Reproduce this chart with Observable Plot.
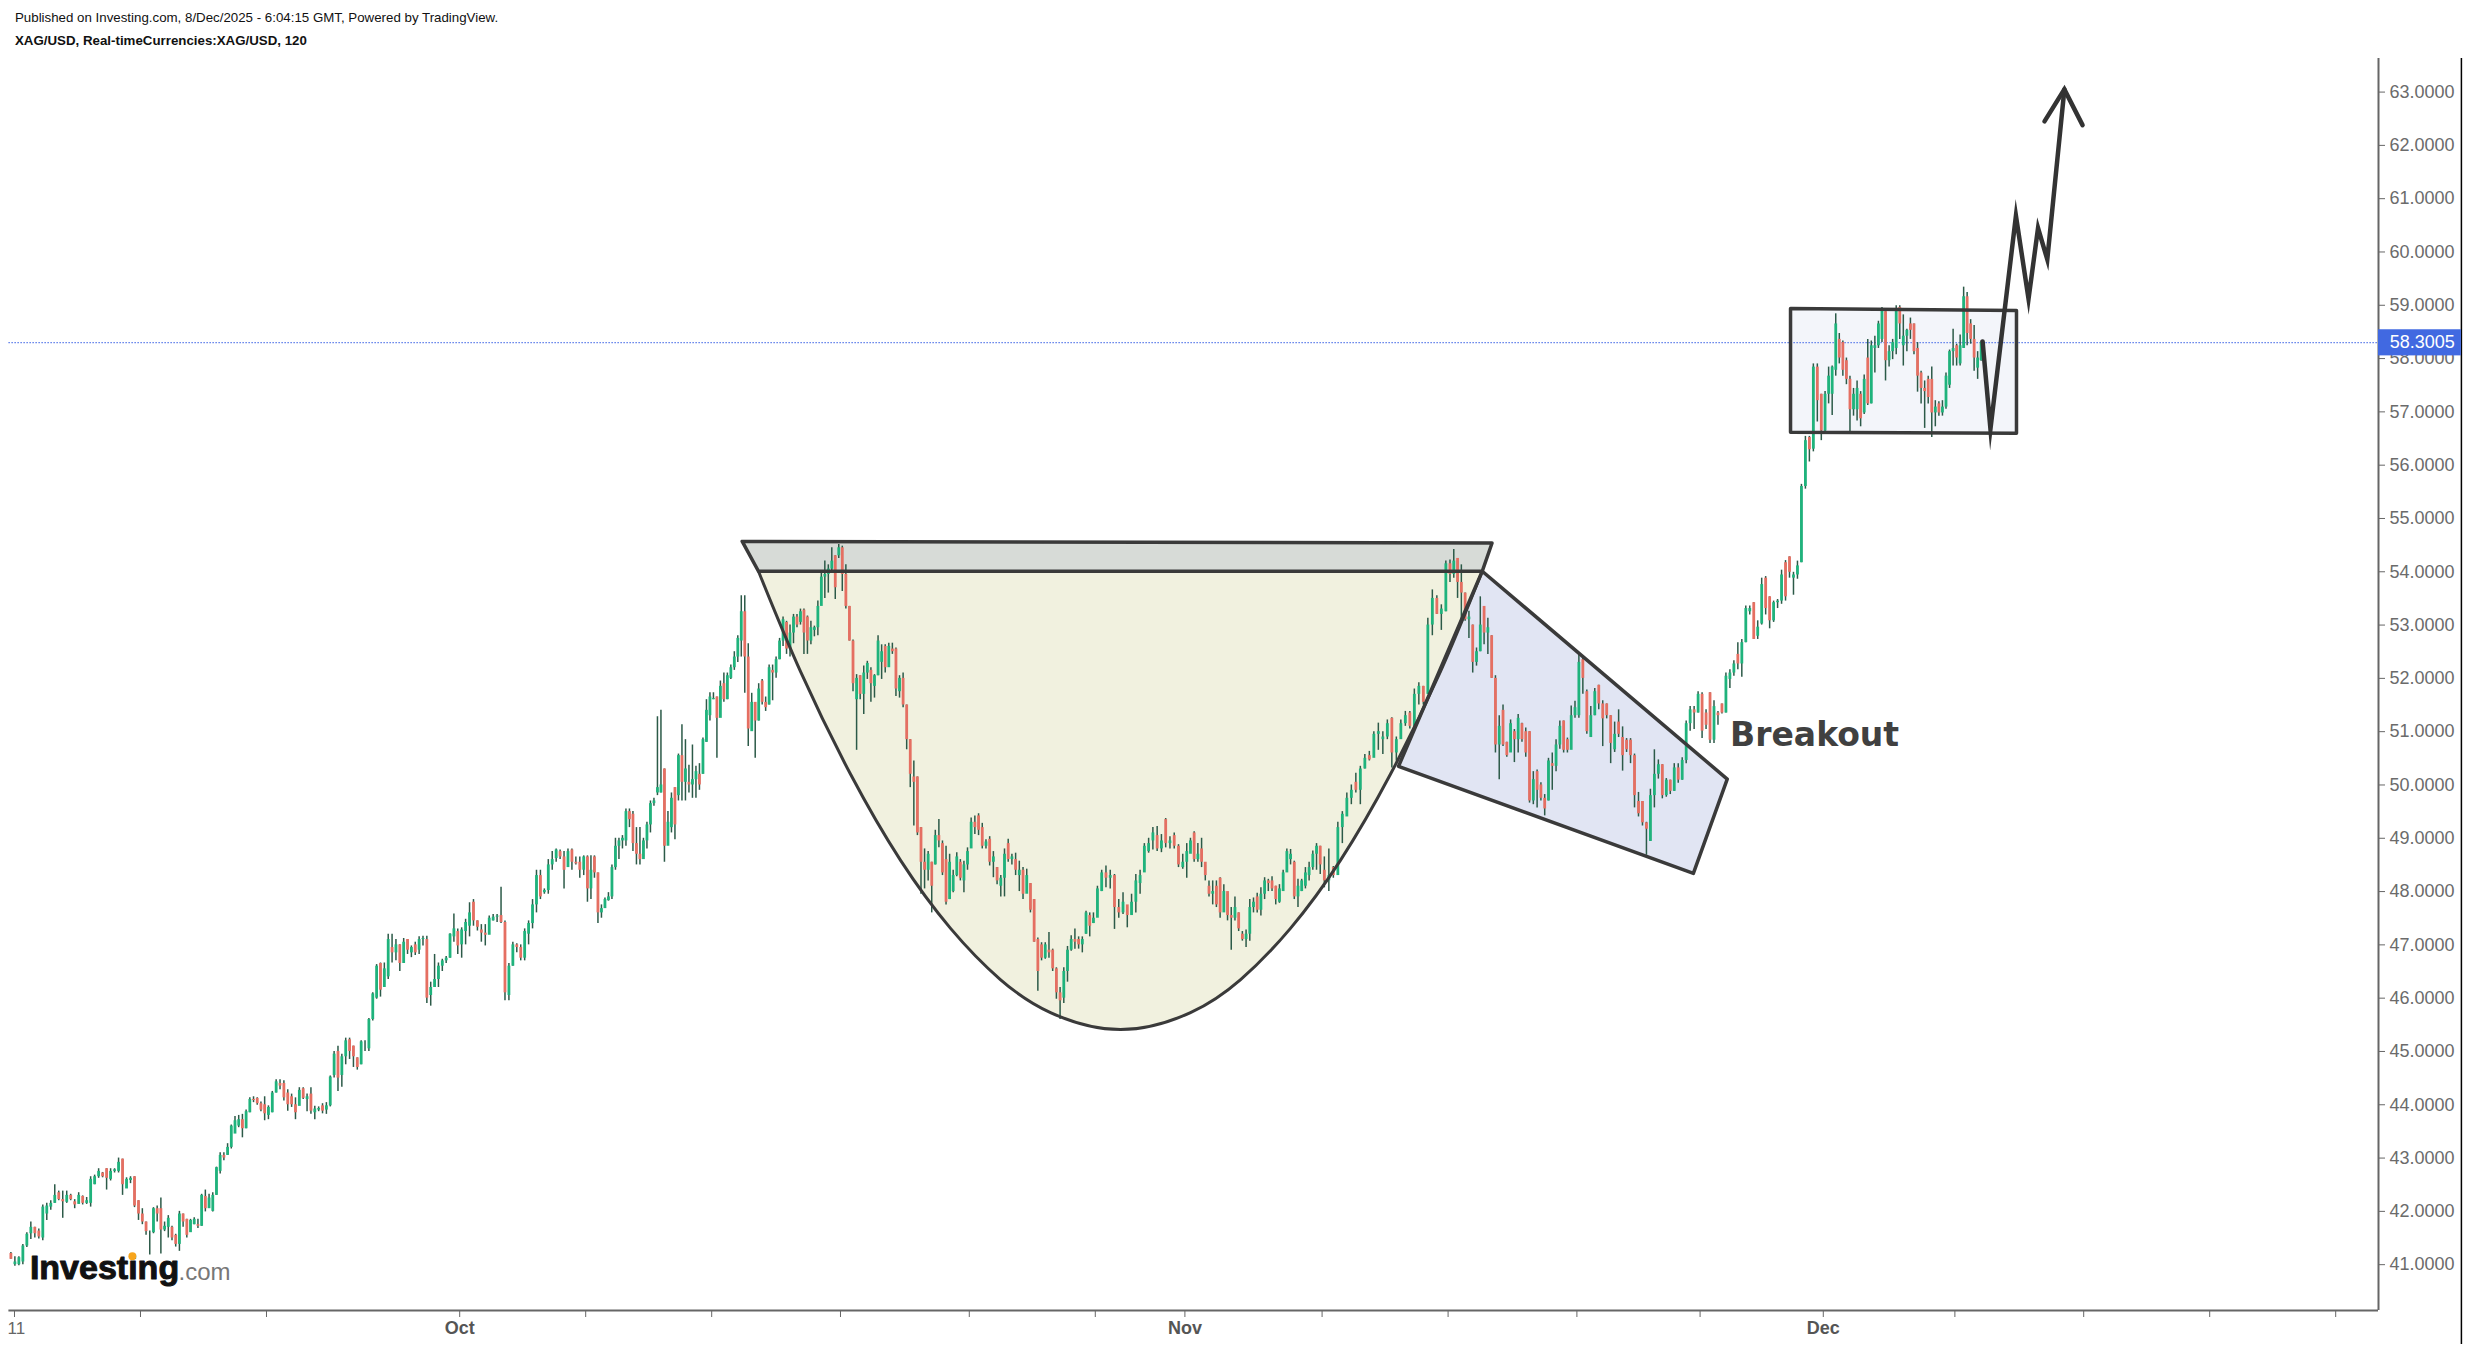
<!DOCTYPE html>
<html><head><meta charset="utf-8">
<script src="https://cdn.jsdelivr.net/npm/d3@7"></script>
<script src="https://cdn.jsdelivr.net/npm/@observablehq/plot@0.6"></script>
<style>
html,body{margin:0;background:#fff;}
#head{position:absolute;left:15px;top:6px;font-family:"Liberation Sans",Arial,sans-serif;font-size:13.3px;color:#111;line-height:23px;}
#head b{display:block;}
svg{display:block;}
</style></head><body>
<div id="head">Published on Investing.com, 8/Dec/2025 - 6:04:15 GMT, Powered by TradingView.<b>XAG/USD, Real-timeCurrencies:XAG/USD, 120</b></div>
<div id="chart"></div>
<script>
// Weekly candle blocks, each row: open, high, low, close (USD)
const w00=[[41.21,41.23,41.10,41.10],[41.0,41.15,40.97,41.05],[41.0,41.15,40.98,41.13],[41.05,41.38,41.0,41.35],[41.35,41.6,41.32,41.57],[41.58,41.8,41.47,41.7],[41.7,41.7,41.5,41.58],[41.63,41.67,41.48,41.52],[41.5,42.12,41.45,42.08],[41.95,42.15,41.83,42.1],[42.08,42.2,42.02,42.15],[42.15,42.5,42.15,42.3],[42.35,42.38,42.2,42.22],[42.22,42.38,41.87,42.18],[42.17,42.38,42.15,42.3],[42.3,42.32,42.2,42.22],[42.18,42.22,42.05,42.12],[42.13,42.35,42.14,42.3],[42.28,42.29,42.12,42.15],[42.15,42.26,42.13,42.2],[42.15,42.65,42.08,42.6],[42.5,42.68,42.5,42.65],[42.65,42.8,42.62,42.75],[42.72,42.73,42.63,42.65],[42.8,42.8,42.4,42.62],[42.6,42.8,42.57,42.75],[42.75,42.8,42.72,42.78],[42.75,43.0,42.72,42.92],[42.98,42.98,42.3,42.5],[42.42,42.63,42.43,42.6],[42.58,42.65,42.52,42.62],[42.65,42.65,42.07,42.1],[42.2,42.2,41.83,41.95]];
const w01=[[41.95,42.05,41.75,41.8],[41.8,41.8,41.55,41.62],[41.6,41.63,41.18,41.6],[41.6,42.07,41.58,42.05],[42.05,42.1,41.8,41.95],[42.05,42.25,41.2,41.65],[41.65,41.8,41.62,41.72],[41.7,41.92,41.5,41.87],[41.7,41.72,41.45,41.5],[41.55,41.57,41.33,41.38],[41.38,42.0,41.25,41.95],[41.95,41.95,41.7,41.8],[41.85,41.85,41.5,41.55],[41.6,41.85,41.66,41.83],[41.75,41.88,41.75,41.85],[41.75,41.85,41.68,41.72],[41.72,42.32,41.72,42.3],[42.28,42.4,41.99,42.05],[42.05,42.32,42.1,42.25],[42.0,42.35,41.99,42.3],[42.3,42.83,42.3,42.82],[42.75,43.1,42.7,43.05],[43.05,43.1,42.95,43.0],[43.05,43.27,43.05,43.2],[43.2,43.62,43.17,43.6],[43.45,43.78,43.5,43.7],[43.6,43.8,43.57,43.72],[43.72,43.82,43.38,43.55],[43.55,43.9,43.55,43.87],[43.85,44.13,43.85,44.1],[44.1,44.15,44.04,44.08],[44.12,44.13,43.99,44.02],[44.02,44.05,43.87,43.9],[44.0,44.15,43.7,43.83]];
const w02=[[43.8,43.98,43.72,43.95],[43.85,44.25,43.85,44.22],[44.22,44.47,44.22,44.43],[44.4,44.47,44.28,44.35],[44.4,44.45,44.07,44.13],[44.22,44.28,43.88,44.0],[44.15,44.2,43.95,44.0],[44.0,44.13,43.72,43.85],[43.97,44.32,44.12,44.27],[44.3,44.32,44.1,44.12],[44.1,44.2,43.87,44.15],[44.2,44.32,43.82,43.88],[43.85,43.97,43.72,43.92],[43.9,43.96,43.87,43.93],[43.98,44.02,43.83,43.88],[43.9,44.04,43.82,43.98],[43.98,44.54,43.96,44.52],[44.55,45.0,44.5,44.95],[45.0,45.1,44.25,44.5],[44.55,44.95,44.33,44.9],[44.9,45.25,44.75,45.2],[45.22,45.25,44.85,45.0],[45.1,45.1,44.7,44.9],[44.88,44.88,44.65,44.7],[44.75,45.2,44.75,45.18],[45.1,45.2,45.0,45.1],[45.05,45.62,45.0,45.6],[45.6,46.1,45.57,46.08],[46.0,46.63,45.98,46.6],[46.65,46.66,46.02,46.15],[46.2,46.66,46.25,46.55],[46.4,47.2,46.35,47.1],[46.95,47.2,46.66,46.85],[46.85,47.1,46.7,47.0],[47.0,47.0,46.5,46.65],[46.65,47.12,46.65,47.05],[47.1,47.1,46.82,46.9],[46.85,46.98,46.76,46.95],[47.0,47.05,46.8,46.85],[46.9,47.15,46.82,47.1],[47.1,47.16,46.98,47.12],[47.1,47.16,45.9,46.0],[46.05,46.3,45.85,46.2],[46.2,46.82,46.2,46.35],[46.35,46.66,46.2,46.6],[46.6,46.73,46.5,46.7],[46.7,46.78,46.65,46.75],[46.75,47.21,46.75,47.2],[47.15,47.58,47.05,47.3],[47.25,47.3,46.82,46.98]];
const w03=[[47.0,47.32,46.75,47.28],[47.25,47.48,47.0,47.42],[47.35,47.79,47.15,47.6],[47.8,47.85,47.35,47.45],[47.45,47.45,47.26,47.33],[47.28,47.38,47.05,47.22],[47.22,47.38,46.98,47.18],[47.18,47.54,47.2,47.5],[47.45,47.57,47.45,47.52],[47.52,47.57,47.42,47.54],[47.55,48.08,47.4,47.42],[47.42,47.45,45.95,46.1],[46.05,46.65,45.95,46.6],[46.6,47.05,46.6,47.0],[47.0,47.02,46.85,46.95],[46.95,47.0,46.7,46.75],[46.75,47.3,46.7,47.25],[47.2,47.45,47.0,47.4],[47.4,47.85,47.3,47.75],[47.75,48.4,47.6,48.3],[48.3,48.4,47.85,47.9],[47.98,48.05,47.95,48.02],[48.02,48.6,47.95,48.5],[48.5,48.75,48.4,48.6],[48.62,48.8,48.55,48.78],[48.75,48.78,48.6,48.65],[48.65,48.75,48.05,48.4],[48.45,48.8,48.5,48.75],[48.78,48.8,48.4,48.55],[48.55,48.65,48.5,48.52],[48.55,48.65,48.25,48.4],[48.4,48.67,48.3,48.65]];
const w04=[[48.65,48.67,47.8,48.05],[48.05,48.67,47.85,48.4],[48.65,48.67,48.25,48.35],[48.35,48.35,47.4,47.6],[47.6,47.75,47.5,47.68],[47.68,47.88,47.75,47.85],[47.83,47.98,47.82,47.9],[47.9,48.5,47.85,48.45],[48.45,49.0,48.4,48.85],[48.85,49.0,48.6,48.95],[48.95,49.05,48.8,49.0],[48.95,49.55,48.85,49.5],[49.5,49.55,49.2,49.35],[49.45,49.5,48.75,48.9],[48.9,49.2,48.5,48.7],[48.7,49.2,48.5,48.6],[48.6,49.0,48.65,48.95],[48.95,49.3,48.8,49.25],[49.25,49.7,49.1,49.65],[49.65,49.75,49.6,49.7],[49.85,51.28,49.8,49.95],[49.85,51.4,49.85,50.0],[50.3,50.3,48.55,48.85],[48.85,49.5,48.95,49.3],[49.2,49.85,49.1,49.75],[49.95,49.95,48.97,49.25],[49.8,50.58,49.7,50.55],[50.55,51.13,49.7,50.05],[50.05,50.85,49.7,50.3],[50.05,50.37,49.85,50.0],[50.0,50.75,49.75,50.1],[50.1,50.35,49.75,50.25],[50.2,50.4,49.9,50.0],[50.2,50.88,50.2,50.85],[50.8,51.6,50.8,51.4],[51.3,51.73,51.2,51.65]];
const w05=[[51.6,51.73,51.6,51.62],[51.65,51.65,50.5,51.25],[51.25,51.95,51.4,51.85],[51.9,52.1,51.55,51.6],[51.6,52.1,51.6,52.05],[52.0,52.25,51.98,52.2],[52.2,52.5,52.15,52.4],[52.4,52.8,52.3,52.75],[52.7,53.55,52.4,53.25],[53.25,53.55,51.72,52.4],[52.4,52.65,50.72,51.05],[51.0,51.72,51.05,51.55],[51.55,51.5,50.5,51.2],[51.2,51.9,51.2,51.8],[51.95,51.98,51.5,51.55],[51.55,51.65,51.38,51.45],[51.5,52.25,51.5,52.2],[52.15,52.25,51.58,52.1],[52.1,52.4,52.0,52.35],[52.35,52.75,52.35,52.7],[52.7,53.15,52.6,53.1],[53.05,53.07,52.45,52.55],[52.55,53.0,52.4,52.85],[52.85,53.2,52.65,53.15],[53.15,53.2,52.95,53.0],[53.05,53.3,53.0,53.25],[53.28,53.3,52.45,52.85],[53.15,53.17,52.45,52.7],[52.7,53.07,52.63,52.95],[52.9,52.98,52.78,52.95],[52.95,53.45,52.8,53.35],[53.35,53.98,53.48,53.9],[53.9,54.2,53.5,53.95],[53.95,54.13,53.6,54.05],[54.05,54.45,53.98,54.2],[54.3,54.3,53.48,53.7],[54.3,54.51,54.25,54.45]];
const w06=[[54.45,54.48,53.63,53.95],[53.95,54.13,53.3,53.35],[53.35,53.35,52.7,52.7],[52.7,52.72,51.75,51.9],[51.6,52.07,50.65,52.0],[52.05,52.05,51.6,51.7],[51.7,52.23,51.32,52.1],[52.1,52.32,51.98,52.28],[52.15,52.2,51.55,51.9],[51.85,52.07,51.63,52.05],[52.05,52.8,52.05,52.7],[52.3,52.63,51.98,52.5],[52.6,52.63,52.1,52.2],[52.2,52.66,52.25,52.6],[52.55,52.66,52.45,52.5],[52.55,52.57,51.66,51.8],[51.75,52.05,51.63,52.0],[52.0,52.1,51.45,51.5],[51.5,51.5,50.66,50.85],[50.85,50.85,49.95,50.2],[50.15,50.45,49.23,50.05],[50.15,50.15,49.05,49.1],[49.2,49.2,47.95,48.55],[48.55,48.8,48.05,48.4],[48.4,48.75,48.2,48.7],[48.55,48.55,47.6,48.1],[48.5,49.15,48.5,49.05],[49.05,49.35,48.82,48.95],[48.9,48.95,48.3,48.35],[48.6,48.85,47.75,47.8],[47.85,48.7,47.85,48.55],[48.0,48.4,47.98,48.3],[48.3,48.73,48.28,48.65],[48.55,48.6,48.2,48.25],[48.2,48.57,47.98,48.5],[48.5,48.82,48.4,48.75]];
const w07=[[48.8,49.38,48.9,49.3],[49.3,49.42,49.07,49.2],[49.42,49.46,49.05,49.15],[49.2,49.28,48.8,48.85],[48.85,48.97,48.8,48.93],[48.98,49.03,48.48,48.55],[48.55,48.75,48.26,48.65],[48.45,48.45,48.13,48.2],[48.1,48.3,47.9,48.25],[48.25,48.8,47.9,48.7],[48.9,48.98,48.55,48.6],[48.6,48.7,48.5,48.65],[48.6,48.72,48.3,48.4],[48.3,48.57,48.0,48.4],[48.4,48.45,47.85,47.95],[47.95,48.42,47.98,48.3],[48.15,48.15,47.6,47.65],[47.85,47.85,47.05,47.05],[47.1,47.13,46.13,46.5],[47.0,47.04,46.7,46.75],[46.75,47.04,46.73,47.0],[46.9,47.23,46.75,46.85],[46.9,46.92,46.5,46.55],[46.55,46.57,45.98,46.1],[46.1,46.2,45.6,45.95],[46.0,46.57,45.9,46.5],[46.5,46.97,46.3,46.9],[46.9,47.17,46.88,47.1],[47.1,47.3,46.92,47.05],[47.1,47.15,46.92,47.0],[47.0,47.15,46.85,47.1],[47.2,47.63,47.2,47.6],[47.55,47.6,47.15,47.35],[47.4,47.6,47.4,47.5]];
const w08=[[47.5,48.1,47.6,48.05],[48.0,48.4,48.0,48.35],[48.35,48.48,48.07,48.25],[48.25,48.4,48.05,48.3],[48.3,48.32,47.29,47.7],[47.7,47.85,47.5,47.6],[47.6,47.98,47.57,47.8],[47.75,47.7,47.32,47.55],[47.55,47.95,47.57,47.8],[47.8,48.32,47.6,48.2],[48.15,48.4,47.95,48.3],[48.35,48.9,48.4,48.85],[48.75,49.0,48.72,48.9],[48.95,49.2,48.78,49.1],[49.05,49.22,48.75,48.8],[48.8,49.07,48.73,48.95],[49.35,49.37,48.82,48.9],[48.9,49.03,48.8,48.95],[49.05,49.1,48.8,48.85],[48.85,48.88,48.45,48.5],[48.45,48.7,48.42,48.55]];
const w09=[[48.55,48.9,48.25,48.75],[48.7,49.0,48.8,48.95],[49.1,49.12,48.55,48.6],[48.6,48.9,48.55,48.7],[48.8,49.0,48.45,48.55],[48.55,48.5,48.2,48.3],[48.1,48.2,47.9,47.95],[47.95,48.2,47.75,48.0],[48.1,48.2,47.7,47.75],[48.25,48.26,47.5,47.6],[47.6,48.13,47.72,48.0],[48.0,47.95,47.45,47.55],[47.55,47.7,46.9,47.5],[47.5,47.9,47.45,47.7],[47.6,47.6,47.25,47.3],[47.2,47.25,47.07,47.1],[47.1,47.28,46.95,47.2],[47.2,47.85,47.07,47.7],[47.7,47.88,47.6,47.8],[47.9,47.97,47.6,47.65],[47.65,48.07,47.54,47.95],[47.95,48.26,47.85,48.2],[48.2,48.23,48.0,48.15],[48.2,48.28,48.0,48.05],[48.1,48.1,47.75,47.85],[47.8,48.13,47.78,48.05],[48.0,48.4,48.2,48.35],[48.35,48.8,48.45,48.75],[48.6,48.79,48.5,48.7],[48.55,48.57,47.85,47.9],[47.9,48.23,47.7,48.1],[48.0,48.23,48.0,48.2],[48.1,48.45,48.05,48.35],[48.3,48.55,48.2,48.45],[48.45,48.76,48.4,48.7],[48.7,48.9,48.4,48.85],[48.85,48.85,48.32,48.5]];
const w10=[[48.4,48.65,48.07,48.2],[48.2,48.8,48.0,48.3],[48.45,48.47,48.25,48.3],[48.3,49.3,48.6,49.2],[49.2,49.5,48.9,49.45],[49.4,49.85,49.45,49.75],[49.75,50.0,49.63,49.9],[50.05,50.22,49.85,49.9],[49.9,50.35,49.63,50.3],[50.3,50.57,50.3,50.5],[50.55,50.63,50.45,50.47],[50.5,51.0,50.65,50.95],[50.95,51.16,50.65,51.0],[50.85,51.0,50.57,50.9],[50.9,51.22,50.85,51.15],[51.25,51.26,50.32,50.6],[50.6,50.9,50.45,50.85],[50.85,51.22,50.9,51.15],[51.15,51.38,51.1,51.3],[51.35,51.38,51.05,51.1],[51.1,51.8,51.07,51.7],[51.7,51.92,51.5,51.85],[51.85,51.85,51.5,51.55],[51.7,53.13,51.7,53.0],[53.0,53.66,52.8,53.5],[53.5,53.55,53.2,53.2],[53.2,53.38,52.9,53.3],[53.25,54.2,53.25,54.15]];
const w11=[[54.15,54.22,53.8,53.95],[53.95,54.42,53.88,54.2],[54.25,54.2,53.5,53.8],[53.8,54.13,53.07,53.6],[53.6,53.6,53.07,53.1],[53.1,53.26,52.75,53.15],[53.0,53.0,52.1,52.3],[52.3,52.57,52.23,52.5],[52.5,53.53,52.5,53.0],[53.35,53.35,52.63,52.85],[52.85,53.13,52.45,52.95],[52.8,52.8,52.0,52.0],[52.0,52.05,50.6,50.75],[50.75,51.3,50.1,51.1],[51.4,51.5,50.72,50.75],[50.8,50.8,50.52,50.55],[50.6,51.22,50.7,51.15],[51.0,51.04,50.42,50.85],[50.85,51.32,50.6,51.25],[51.15,51.16,50.8,50.85],[51.0,51.07,50.52,50.6],[51.0,51.0,49.66,49.7],[49.7,50.25,49.63,50.1],[50.25,50.28,49.57,49.9],[50.0,50.04,49.7,49.75],[49.75,49.82,49.42,49.55],[49.7,50.5,49.7,50.45],[50.4,50.6,49.9,50.35],[50.35,50.85,50.25,50.75],[50.75,51.2,50.67,51.1],[51.2,51.2,50.6,50.65],[50.85,50.88,50.6,50.65],[50.65,51.48,50.76,51.3],[51.3,51.57,51.25,51.45]];
const w12=[[51.3,52.45,51.25,52.3],[52.35,52.42,51.7,52.0],[51.75,51.78,50.95,51.0],[50.89,51.47,50.89,51.3],[51.3,51.81,51.3,51.75],[51.87,51.87,51.41,51.52],[51.52,51.58,50.72,51.24],[51.52,51.52,51.24,51.3],[51.3,51.3,50.4,50.78],[50.66,51.18,50.61,50.95],[51.18,51.41,50.89,50.95],[50.89,51.09,50.26,50.55],[50.84,50.87,50.61,50.66],[50.84,50.87,50.4,50.55],[50.55,50.58,49.57,49.8],[49.69,49.86,49.4,49.46],[49.69,49.69,49.23,49.29],[49.29,49.3,48.68,49.17],[48.94,49.92,48.94,49.8],[49.8,50.66,49.57,50.2],[50.2,50.47,50.11,50.38],[50.38,50.38,49.74,49.8],[49.8,50.12,49.77,50.09],[50.09,50.09,49.82,49.88],[49.88,50.4,49.88,50.32],[50.32,50.4,50.03,50.09],[50.09,50.51,50.09,50.46],[50.46,51.2,50.4,51.15],[51.15,51.47,51.01,51.41],[51.41,51.47,51.04,51.35],[51.35,51.75,51.35,51.7]];
const w13=[[51.7,51.73,50.87,51.01],[51.35,51.41,51.04,51.12],[51.73,51.73,50.78,50.84],[50.84,51.58,50.78,51.47],[51.35,51.38,51.12,51.3],[51.52,51.52,51.33,51.35],[51.35,52.1,51.35,52.04],[51.98,52.16,51.81,52.1],[52.1,52.33,52.04,52.27],[52.45,52.67,52.16,52.27],[52.27,52.73,52.02,52.67],[52.67,53.36,52.67,53.31],[53.25,53.36,53.19,53.31],[53.42,53.42,52.73,52.73],[52.79,53.08,52.73,52.96],[53.02,53.88,53.0,53.76],[53.88,53.91,53.19,53.31],[53.53,53.53,52.93,53.08],[53.08,53.45,53.05,53.42],[53.42,53.48,53.31,53.45],[53.45,54.03,53.39,53.94],[54.17,54.21,53.45,53.53],[54.28,54.28,53.88,53.99],[53.88,53.99,53.56,53.94],[53.94,54.2,53.86,54.11],[54.17,55.64,54.17,55.6],[55.6,56.54,55.55,56.46],[56.52,56.54,56.06,56.29],[56.3,57.9,56.25,57.84],[57.84,57.9,56.81,57.21],[57.33,57.33,56.46,56.64]];
const w14=[[56.64,57.38,56.6,57.33],[57.33,57.84,57.15,57.67],[57.33,57.86,56.93,57.84],[57.78,58.84,57.67,58.65],[58.36,58.47,57.9,58.01],[58.3,58.33,57.67,57.78],[57.96,58.01,57.51,57.61],[57.61,57.67,56.61,57.04],[57.04,57.44,56.92,57.33],[57.04,57.58,56.83,57.44],[57.33,57.38,56.72,56.87],[56.98,57.69,56.95,57.61],[58.01,58.36,57.12,57.15],[57.15,58.33,57.15,58.24],[58.19,58.42,57.73,58.24],[58.24,58.7,58.19,58.65],[58.36,58.96,58.3,58.91],[58.88,58.88,57.58,57.96],[57.96,58.24,57.84,58.13],[58.13,58.36,57.98,58.3],[58.19,58.99,58.07,58.93],[58.96,58.99,58.36,58.65],[58.24,58.82,57.86,58.42],[58.42,58.55,58.13,58.53],[58.65,58.76,58.36,58.53],[58.65,58.65,58.07,58.13],[58.19,58.3,57.37,57.67],[57.73,57.76,57.15,57.44],[57.44,57.58,56.69,57.38],[57.61,57.67,57.15,57.27],[57.61,57.84,56.52,56.98],[56.98,57.21,56.72,57.09],[57.15,57.19,56.92,56.98],[56.98,57.21,56.92,57.09],[57.09,57.73,57.05,57.67],[57.5,58.16,57.44,58.13],[58.13,58.55,57.86,58.19]];
const w15=[[58.24,58.27,57.86,58.01],[57.9,58.44,57.86,58.24],[58.19,59.34,58.19,59.16],[59.16,59.24,58.24,58.47],[58.65,58.73,58.27,58.36],[58.36,58.62,57.76,58.01],[57.82,58.13,57.61,58.01],[57.96,58.33,57.95,58.3005]];
const weeks=[w00,w01,w02,w03,w04,w05,w06,w07,w08,w09,w10,w11,w12,w13,w14,w15];

// Time axis: bar numbers of the ticks and the labels on them
const tickBars=[0,45,90,159,204,249,295,341,386,418,467,512,558,602,646,693,739,784,829];
const weekEdges=[-2,45,90,159,204,249,295,341,386,418,467,512,558,602,646,693,703];
const monthBars=[159,418,646];
const monthNames=["Oct","Nov","Dec"];
// Price axis
const priceTicks=d3.range(41,64);
const lastPrice=58.3005;

// Drawn patterns, in bars and USD
const cupBars=[265.7,280.7,298.6,316.4,334.3,352.1,370,395,420,437.9,455.7,473.6,491.4,509.3,524.2];
const cupPrices=[54.01,52.13,50.2,48.59,47.31,46.35,45.73,45.41,45.73,46.35,47.31,48.59,50.2,52.13,54.01];
const rimBars=[259.9,527.7,524.2,265.7];
const rimPrices=[54.57,54.54,54.01,54.01];
const wedgeBars=[524.2,611.7,599.6,494.3];
const wedgePrices=[54.01,50.11,48.34,50.35];
const boxBars=[634.3,715,715,634.3];
const boxPrices=[58.94,58.9,56.6,56.62];
const pathBars=[702.9,705.7,714.8,719.3,722.7,726,732.1];
const pathPrices=[58.32,56.68,60.68,59.12,60.45,59.86,63.05];
const headBars=[725,732.1,738.6];
const headPrices=[62.45,63.05,62.38];

const pts=(xs,ys)=>xs.map((x,i)=>({x,y:ys[i]}));
const candles=weeks.flatMap((rows,k)=>rows.map((r,j)=>({
  bar:weekEdges[k]+(j+0.5)/rows.length*(weekEdges[k+1]-weekEdges[k]),
  open:r[0],high:r[1],low:r[2],close:r[3]})));
const ups=candles.filter(d=>d.close>=d.open), downs=candles.filter(d=>d.close<d.open);
const ink="#3a3a3a", axisInk="#666";
const sans='"Liberation Sans",Arial,sans-serif';
const endBar=844.29, edgeBar=873.9;

const plot=Plot.plot({
  width:2469,height:1346,marginLeft:0,marginRight:91,marginTop:58,marginBottom:36,
  style:{background:"#fff",fontFamily:sans,overflow:"visible"},
  x:{domain:[-5,endBar],label:null},
  y:{domain:[40.14,63.63],label:null},
  marks:[
    // fills
    Plot.line(pts(cupBars,cupPrices),{x:"x",y:"y",fill:"#f1f1df",stroke:"none",curve:"natural"}),
    Plot.line(pts(rimBars,rimPrices),{x:"x",y:"y",fill:"#d7dbd7",stroke:"none",curve:"linear-closed"}),
    Plot.line(pts(wedgeBars,wedgePrices),{x:"x",y:"y",fill:"#e1e5f3",stroke:"none",curve:"linear-closed"}),
    Plot.line(pts(boxBars,boxPrices),{x:"x",y:"y",fill:"#f3f5fa",stroke:"none",curve:"linear-closed"}),
    // last price line
    Plot.ruleY([lastPrice],{x1:-2,x2:endBar,stroke:"#5f7fea",strokeWidth:1.2,strokeDasharray:"1.5 1.5"}),
    // candles
    Plot.ruleX(candles,{x:"bar",y1:"low",y2:"high",stroke:"#2c5a48",strokeWidth:1.5}),
    Plot.ruleX(ups,{x:"bar",y1:"open",y2:"close",stroke:"#1fb37c",strokeWidth:2.8}),
    Plot.ruleX(downs,{x:"bar",y1:"open",y2:"close",stroke:"#e56f62",strokeWidth:2.8}),
    // pattern outlines
    Plot.line(pts(cupBars,cupPrices),{x:"x",y:"y",stroke:ink,strokeWidth:3,curve:"natural"}),
    Plot.line(pts(rimBars,rimPrices),{x:"x",y:"y",stroke:ink,strokeWidth:3.5,curve:"linear-closed"}),
    Plot.line(pts(wedgeBars,wedgePrices),{x:"x",y:"y",stroke:ink,strokeWidth:3.5,curve:"linear-closed"}),
    Plot.line(pts(boxBars,boxPrices),{x:"x",y:"y",stroke:ink,strokeWidth:3.5,curve:"linear-closed"}),
    Plot.line(pts(pathBars,pathPrices),{x:"x",y:"y",stroke:"#333",strokeWidth:4.5,strokeLinejoin:"miter",strokeMiterlimit:12}),
    Plot.line(pts(headBars,headPrices),{x:"x",y:"y",stroke:"#333",strokeWidth:4.5,strokeLinejoin:"miter",strokeMiterlimit:12}),
    Plot.text(["Breakout"],{x:[612.7],y:[50.93],textAnchor:"start",fontFamily:"DejaVu Sans",fontWeight:"bold",fontSize:33,fill:"#404040"}),
    // watermark
    Plot.text(["Investing"],{x:[5.5],y:[40.93],textAnchor:"start",fontFamily:sans,fontWeight:"bold",fontSize:34,fill:"#111",stroke:"#111",strokeWidth:1}),
    Plot.text([".com"],{x:[58.6],y:[40.86],textAnchor:"start",fontFamily:sans,fontSize:24,fill:"#777"}),
    Plot.dot([0],{x:[42.1],y:[41.16],r:4,fill:"#f7a51c",stroke:"none"}),
    // axes
    Plot.ruleX([endBar],{y1:40.14,y2:63.63,stroke:axisInk,strokeWidth:2}),
    Plot.ruleY([40.14],{x1:-2,x2:endBar,stroke:axisInk,strokeWidth:2}),
    Plot.ruleX([edgeBar],{y1:39.5,y2:63.63,stroke:"#000",strokeWidth:1.5}),
    Plot.axisY(priceTicks,{anchor:"right",tickSize:6,tickPadding:5,tickFormat:d=>d.toFixed(4),fontSize:18,fill:"#6b6b6b",stroke:axisInk,label:null,fontFamily:sans}),
    Plot.axisX(tickBars,{anchor:"bottom",tickSize:7,tickFormat:()=>"",stroke:axisInk,label:null}),
    Plot.text(monthBars,{x:d=>d,y:()=>39.81,text:(d,i)=>monthNames[i],fontFamily:sans,fontWeight:"bold",fontSize:18,fill:"#555"}),
    Plot.text(["11"],{x:[-2.5],y:[39.81],textAnchor:"start",fontFamily:sans,fontSize:17,fill:"#666"}),
    // last price badge
    Plot.rect([lastPrice],{x1:endBar,x2:edgeBar,y1:d=>d-0.25,y2:d=>d+0.24,fill:"#4169e1",stroke:"none"}),
    Plot.text([lastPrice],{x:endBar+4,y:d=>d,text:d=>d.toFixed(4),textAnchor:"start",fontFamily:sans,fontSize:18,fill:"#fff"})
  ]
});
document.getElementById("chart").append(plot);
</script>
</body></html>
